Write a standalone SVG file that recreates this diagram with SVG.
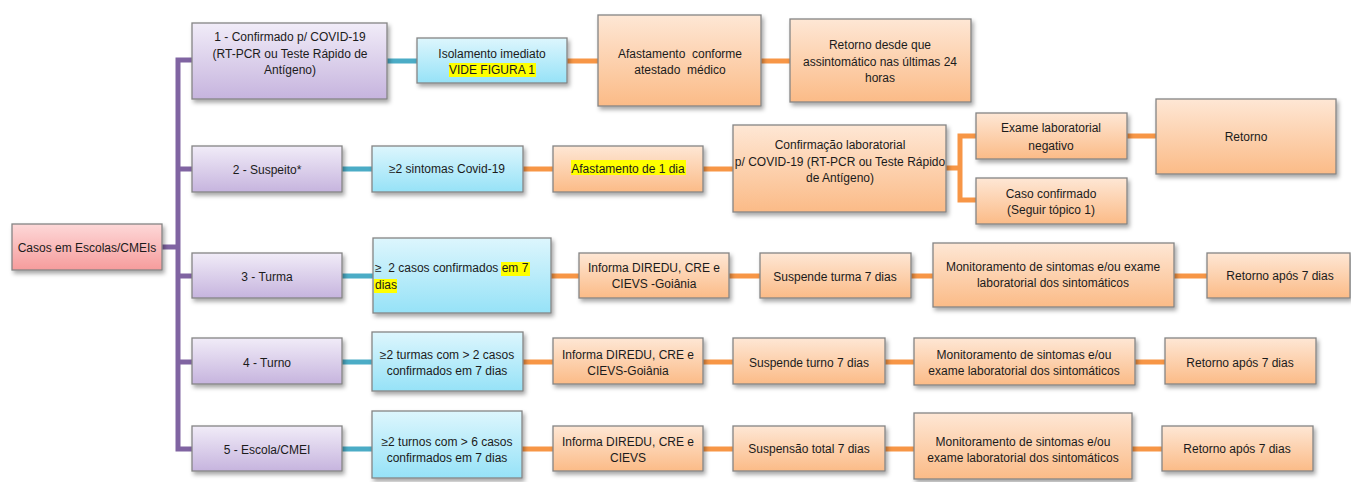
<svg xmlns="http://www.w3.org/2000/svg" width="1351" height="482" viewBox="0 0 1351 482">
<defs>
<linearGradient id="gp" x1="0" y1="0" x2="0" y2="1"><stop offset="0" stop-color="#f1ecf8"/><stop offset="1" stop-color="#c6b4de"/></linearGradient>
<linearGradient id="gt" x1="0" y1="0" x2="0" y2="1"><stop offset="0" stop-color="#ddf6fd"/><stop offset="1" stop-color="#96e2f7"/></linearGradient>
<linearGradient id="go" x1="0" y1="0" x2="0" y2="1"><stop offset="0" stop-color="#fee7d5"/><stop offset="1" stop-color="#fbbb87"/></linearGradient>
<linearGradient id="gr" x1="0" y1="0" x2="0" y2="1"><stop offset="0" stop-color="#fdd8d8"/><stop offset="1" stop-color="#f69c9c"/></linearGradient>
<filter id="sh" x="-10%" y="-20%" width="125%" height="150%"><feDropShadow dx="2" dy="3" stdDeviation="2" flood-color="#000" flood-opacity="0.35"/></filter>
</defs>
<style>
.b{stroke:#858585;stroke-width:1.3;filter:url(#sh)}
.p{fill:url(#gp)}.t{fill:url(#gt)}.o{fill:url(#go)}.r{fill:url(#gr)}
text{font-family:"Liberation Sans",Arial,sans-serif;font-size:12px;fill:#1b1b1b;text-anchor:middle}
.l{text-anchor:start}
.hl{fill:#ffff00}
.cp{stroke:#8064a2;stroke-width:5;fill:none}
.ct{stroke:#4bacc6;stroke-width:5;fill:none}
.co{stroke:#f79646;stroke-width:5;fill:none}
</style>
<g id="connectors">
<path class="cp" d="M162 247H178M192 60H178V449H192M178 169H192M178 276H192M178 362H192"/>
<path class="ct" d="M387 61H417M342 169H372M342 276H373M342 362H372M342 449H372"/>
<path class="co" d="M567 61H598M761 61H790M523 169H553M703 169H733M946 168H960M976 136H960V200H976M1127 136H1156"/>
<path class="co" d="M551 276H579M729 276H760M911 276H933M1174 276H1207"/>
<path class="co" d="M523 362H553M703 362H733M885 362H914M1135 362H1165"/>
<path class="co" d="M522 449H553M703 449H733M885 449H914M1132 449H1162"/>
</g>
<g id="root"><rect class="b r" x="12" y="224" width="150" height="46"/><text x="87" y="252">Casos em Escolas/CMEIs</text></g>
<g id="p1"><rect class="b p" x="192" y="23" width="195" height="76"/><text x="290" y="41">1 - Confirmado p/ COVID-19</text><text x="290" y="58">(RT-PCR ou Teste Rápido de</text><text x="290" y="74">Antígeno)</text></g>
<g id="p2"><rect class="b p" x="192" y="146" width="150" height="46"/><text x="267" y="174">2 - Suspeito*</text></g>
<g id="p3"><rect class="b p" x="192" y="253" width="150" height="45"/><text x="267" y="281">3 - Turma</text></g>
<g id="p4"><rect class="b p" x="192" y="338" width="150" height="46"/><text x="267" y="367">4 - Turno</text></g>
<g id="p5"><rect class="b p" x="192" y="426" width="150" height="45"/><text x="267" y="454">5 - Escola/CMEI</text></g>
<g id="t1"><rect class="b t" x="417" y="38" width="150" height="45"/><rect class="hl" x="449" y="63" width="87" height="14"/><text x="492" y="58">Isolamento imediato</text><text x="492" y="74">VIDE FIGURA 1</text></g>
<g id="t2"><rect class="b t" x="372" y="146" width="151" height="46"/><text x="447" y="173">≥2 sintomas Covid-19</text></g>
<g id="t3"><rect class="b t" x="373" y="238" width="178" height="75"/><rect class="hl" x="501" y="262" width="29" height="14"/><rect class="hl" x="374" y="279" width="23" height="14"/><text class="l" x="375" y="272" xml:space="preserve">≥  2 casos confirmados em 7</text><text class="l" x="375" y="289">dias</text></g>
<g id="t4"><rect class="b t" x="372" y="332" width="151" height="59"/><text x="447" y="359">≥2 turmas com &gt; 2 casos</text><text x="447" y="375">confirmados em 7 dias</text></g>
<g id="t5"><rect class="b t" x="372" y="411" width="150" height="67"/><text x="447" y="446">≥2 turnos com &gt; 6 casos</text><text x="447" y="462">confirmados em 7 dias</text></g>
<g id="o1a"><rect class="b o" x="598" y="15" width="163" height="91"/><text x="680" y="58" xml:space="preserve">Afastamento  conforme</text><text x="680" y="74" xml:space="preserve">atestado  médico</text></g>
<g id="o1b"><rect class="b o" x="790" y="19" width="181" height="83"/><text x="880" y="49">Retorno desde que</text><text x="880" y="66">assintomático nas últimas 24</text><text x="880" y="82">horas</text></g>
<g id="o2a"><rect class="b o" x="553" y="146" width="150" height="46"/><rect class="hl" x="571" y="160" width="115" height="15"/><text x="628" y="173">Afastamento de 1 dia</text></g>
<g id="o2b"><rect class="b o" x="733" y="125" width="213" height="87"/><text x="840" y="149">Confirmação laboratorial</text><text x="840" y="166">p/ COVID-19 (RT-PCR ou Teste Rápido</text><text x="840" y="182">de Antígeno)</text></g>
<g id="o2c"><rect class="b o" x="976" y="113" width="151" height="46"/><text x="1051" y="132">Exame laboratorial</text><text x="1051" y="150">negativo</text></g>
<g id="o2d"><rect class="b o" x="976" y="178" width="151" height="46"/><text x="1051" y="198">Caso confirmado</text><text x="1051" y="214">(Seguir tópico 1)</text></g>
<g id="o2e"><rect class="b o" x="1156" y="99" width="180" height="75"/><text x="1246" y="141">Retorno</text></g>
<g id="o3a"><rect class="b o" x="579" y="253" width="150" height="45"/><text x="654" y="272">Informa DIREDU, CRE e</text><text x="654" y="288">CIEVS -Goiânia</text></g>
<g id="o3b"><rect class="b o" x="760" y="253" width="151" height="45"/><text x="835" y="281">Suspende turma 7 dias</text></g>
<g id="o3c"><rect class="b o" x="933" y="243" width="241" height="64"/><text x="1053" y="271">Monitoramento de sintomas e/ou exame</text><text x="1053" y="287">laboratorial dos sintomáticos</text></g>
<g id="o3d"><rect class="b o" x="1207" y="253" width="143" height="45"/><text x="1280" y="280">Retorno após 7 dias</text></g>
<g id="o4a"><rect class="b o" x="553" y="338" width="150" height="46"/><text x="628" y="359">Informa DIREDU, CRE e</text><text x="628" y="375">CIEVS-Goiânia</text></g>
<g id="o4b"><rect class="b o" x="733" y="338" width="152" height="46"/><text x="809" y="367">Suspende turno 7 dias</text></g>
<g id="o4c"><rect class="b o" x="914" y="338" width="221" height="47"/><text x="1024" y="359">Monitoramento de sintomas e/ou</text><text x="1024" y="375">exame laboratorial dos sintomáticos</text></g>
<g id="o4d"><rect class="b o" x="1165" y="338" width="151" height="46"/><text x="1240" y="367">Retorno após 7 dias</text></g>
<g id="o5a"><rect class="b o" x="553" y="426" width="150" height="45"/><text x="628" y="446">Informa DIREDU, CRE e</text><text x="628" y="462">CIEVS</text></g>
<g id="o5b"><rect class="b o" x="733" y="426" width="152" height="45"/><text x="809" y="453">Suspensão total 7 dias</text></g>
<g id="o5c"><rect class="b o" x="914" y="413" width="218" height="66"/><text x="1023" y="446">Monitoramento de sintomas e/ou</text><text x="1023" y="462">exame laboratorial dos sintomáticos</text></g>
<g id="o5d"><rect class="b o" x="1162" y="426" width="151" height="45"/><text x="1237" y="453">Retorno após 7 dias</text></g>
</svg>
